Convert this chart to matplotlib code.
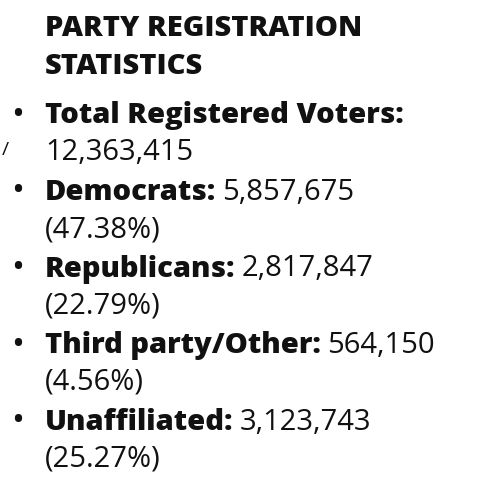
import matplotlib
matplotlib.use("Agg")
import matplotlib.pyplot as plt

TITLE = ["PARTY REGISTRATION", "STATISTICS"]
labels = ["Total Registered Voters:", "Democrats:", "Republicans:", "Third party/Other:", "Unaffiliated:"]
counts = ["12,363,415", "5,857,675", "2,817,847", "564,150", "3,123,743"]
shares = [None, "(47.38%)", "(22.79%)", "(4.56%)", "(25.27%)"]

FONT = "Open Sans"
SIZE = 21

fig = plt.figure(figsize=(5, 5), dpi=100)
ax = fig.add_axes([0, 0, 1, 1])
ax.set_xlim(0, 500)
ax.set_ylim(500, 0)
ax.axis("off")

for i, line in enumerate(TITLE):
    ax.text(45, 28 + i * 39, line, fontsize=SIZE, fontweight="heavy", family=FONT, va="center", color="#111")

ax.text(2, 150, "/", fontsize=14, family=FONT, va="center", color="#111")

y = 116
for lab, cnt, sh in zip(labels, counts, shares):
    ax.text(18, y, "•", fontsize=SIZE + 4, family=FONT, va="center", ha="center", color="#111")
    t = ax.text(45, y, lab, fontsize=SIZE, fontweight="heavy", family=FONT, va="center", color="#111")
    if sh is None:
        ax.text(45, y + 37, cnt, fontsize=SIZE, family=FONT, va="center", color="#111")
    else:
        fig.canvas.draw()
        bb = t.get_window_extent().transformed(ax.transData.inverted())
        ax.text(bb.x1 + 6, y, cnt, fontsize=SIZE, family=FONT, va="center", color="#111")
        ax.text(45, y + 37, sh, fontsize=SIZE, family=FONT, va="center", color="#111")
    y += 76.5

fig.savefig("out.png", dpi=100, facecolor="white")
